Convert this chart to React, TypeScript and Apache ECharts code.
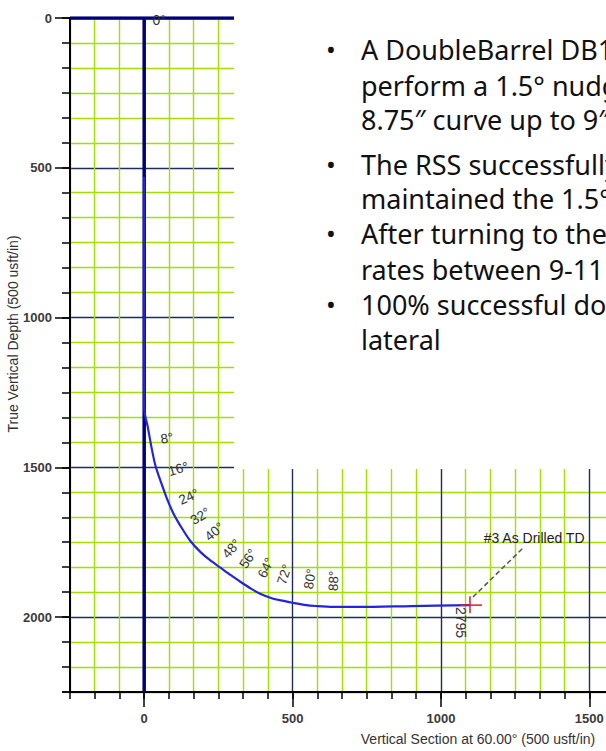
import React, { useEffect, useRef } from "react";
import * as echarts from "echarts";

// ---- axis ranges (usft) ----
const vsMin = -250;
const vsMax = 2500;
const tvdMin = 0;
const tvdMax = 2250;
const gridStep = 500 / 6;
const majorVS = [0, 500, 1000, 1500, 2000, 2500];
const majorTVD = [0, 500, 1000, 1500, 2000];
const labelVS = [0, 500, 1000, 1500];
const labelTVD = [0, 500, 1000, 1500, 2000];

// ---- well path (vertical section, true vertical depth) ----
const pathVS = [0, 0, 0, 4, 12, 24, 38, 55, 75, 99, 125, 155, 190, 222, 257, 292, 324, 360, 391, 430, 470, 500, 540, 580, 637, 728, 900, 1098];
const pathTVD = [530, 1200, 1300, 1330, 1365, 1430, 1495, 1545, 1600, 1655, 1700, 1745, 1783, 1810, 1835, 1860, 1882, 1905, 1922, 1937, 1946, 1952, 1959, 1963, 1966, 1966, 1963, 1960];

// ---- inclination annotations ----
const incAngles = [8, 16, 24, 32, 40, 48, 56, 64, 72, 80, 88];
const incVS = [55, 82, 119, 160, 210, 271, 331, 395, 462, 553, 637];
const incTVD = [1406, 1515, 1612, 1681, 1737, 1797, 1833, 1866, 1890, 1906, 1913];

const startAngle = [0];
const startVS = [28];
const startTVD = [6];

// ---- TD marker ----
const tdVS = [1098];
const tdTVD = [1960];
const tdDepthText = ["2795"];
const tdDepthVS = [1068];
const tdDepthTVD = [1966];
const targetText = ["#3 As Drilled TD"];
const targetVS = [1144];
const targetTVD = [1737];
const leaderVS = [1108, 1276];
const leaderTVD = [1933, 1770];

// ---- notes ----
const noteLines = [
  "A DoubleBarrel DB1",
  "perform a 1.5° nudge",
  "8.75″ curve up to 9″",
  "The RSS successfully",
  "maintained the 1.5°",
  "After turning to the",
  "rates between 9-11",
  "100% successful do",
  "lateral",
];
const noteBullets = [true, false, false, true, false, true, false, true, false];

const axisFont = '"Liberation Sans", Arial, Helvetica, sans-serif';
const noteFont = '"Noto Sans", "Open Sans", sans-serif';
const navy = "#000078";
const majorColor = "#1f2d5c";
const minorColor = "#a2e000";

const isIn = (v: number, list: number[]) => list.some((m) => Math.abs(v - m) < 1e-6);

export default function App() {
  const ref = useRef<HTMLDivElement>(null);

  useEffect(() => {
    if (!ref.current) return;
    const chart = echarts.init(ref.current, undefined, { renderer: "svg" });

    const xColors = Array.from({ length: 6 }, (_, i) => (i === 3 ? majorColor : minorColor));
    const yColors = Array.from({ length: 6 }, (_, i) => (i === 0 ? majorColor : minorColor));

    const labelStyle = {
      color: "#3a3a3a",
      fontSize: 13,
      fontWeight: "bold" as const,
      fontFamily: axisFont,
    };

    const noteY = [49, 85, 119, 164, 198, 233, 269, 304, 339];
    const noteElements: any[] = [
      { type: "rect", shape: { x: 234, y: 0, width: 700, height: 469 }, style: { fill: "#ffffff" }, z: 100 },
    ];
    noteLines.forEach((t, i) => {
      noteElements.push({
        type: "text",
        x: 361,
        y: noteY[i],
        z: 101,
        style: { text: t, fill: "#111", fontSize: 27, fontFamily: noteFont, align: "left", verticalAlign: "middle" },
      });
      if (noteBullets[i]) {
        noteElements.push({
          type: "text",
          x: 331,
          y: noteY[i],
          z: 101,
          style: { text: "•", fill: "#111", fontSize: 26, fontFamily: noteFont, align: "center", verticalAlign: "middle" },
        });
      }
    });
    noteElements.push({
      type: "text",
      x: 13,
      y: 334,
      rotation: Math.PI / 2,
      style: {
        text: "True Vertical Depth (500 usft/in)",
        fill: "#333",
        fontSize: 14,
        fontFamily: axisFont,
        align: "center",
        verticalAlign: "middle",
      },
    });

    const textItem = (p: number[], text: string, rotDeg: number, size: number) => ({
      type: "text",
      x: p[0],
      y: p[1],
      rotation: (rotDeg * Math.PI) / 180,
      style: { text, fill: "#333", fontSize: size, fontFamily: axisFont, align: "left", verticalAlign: "middle" },
    });

    chart.setOption({
      animation: false,
      backgroundColor: "#ffffff",
      grid: { left: 70, top: 18, width: 816, height: 679 },
      xAxis: [
        {
          type: "value",
          min: vsMin,
          max: vsMax,
          interval: gridStep,
          position: "bottom",
          axisLine: { show: true, onZero: false, lineStyle: { color: "#000", width: 2 } },
          axisTick: { show: true, length: 7, lineStyle: { color: "#000", width: 1.5 } },
          axisLabel: {
            ...labelStyle,
            margin: 20,
            formatter: (v: number) => (isIn(v, labelVS) ? String(Math.round(v)) : ""),
          },
          splitLine: { show: true, lineStyle: { color: xColors, width: 1.4 } },
          name: "Vertical Section at 60.00° (500 usft/in)",
          nameLocation: "middle",
          nameGap: 40,
          nameTextStyle: { color: "#333", fontSize: 14, fontFamily: axisFont },
        },
        {
          type: "value",
          min: vsMin,
          max: vsMax,
          position: "bottom",
          axisLine: { show: false, onZero: false },
          axisTick: { show: true, customValues: majorVS, length: 15, lineStyle: { color: "#000", width: 1.5 } },
          axisLabel: { show: false },
          splitLine: { show: false },
        },
      ],
      yAxis: [
        {
          type: "value",
          inverse: true,
          min: tvdMin,
          max: tvdMax,
          interval: gridStep,
          position: "left",
          axisLine: { show: true, onZero: false, lineStyle: { color: "#000", width: 2 } },
          axisTick: { show: true, length: 8, lineStyle: { color: "#000", width: 1.5 } },
          axisLabel: {
            ...labelStyle,
            margin: 18,
            formatter: (v: number) => (isIn(v, labelTVD) ? String(Math.round(v)) : ""),
          },
          splitLine: { show: true, lineStyle: { color: yColors, width: 1.4 } },
        },
        {
          type: "value",
          inverse: true,
          min: tvdMin,
          max: tvdMax,
          position: "left",
          axisLine: { show: false, onZero: false },
          axisTick: { show: true, customValues: majorTVD, length: 15, lineStyle: { color: "#000", width: 1.5 } },
          axisLabel: { show: false },
          splitLine: { show: false },
        },
      ],
      graphic: { elements: noteElements },
      series: [
        {
          type: "line",
          name: "zero VS",
          data: [
            [0, tvdMin],
            [0, tvdMax],
          ],
          showSymbol: false,
          lineStyle: { color: navy, width: 3.5 },
          silent: true,
          z: 2,
        },
        {
          type: "line",
          name: "zero TVD",
          data: [
            [vsMin, 0],
            [vsMax, 0],
          ],
          showSymbol: false,
          lineStyle: { color: navy, width: 3.5 },
          silent: true,
          z: 2,
        },
        {
          type: "line",
          name: "Wellpath",
          data: pathVS.map((x, i) => [x, pathTVD[i]]),
          showSymbol: false,
          smooth: 0.3,
          lineStyle: { color: "#2424dc", width: 2.2 },
          silent: true,
          z: 3,
        },
        {
          type: "custom",
          name: "inclination",
          clip: false,
          silent: true,
          z: 5,
          data: incAngles.map((a, i) => [incVS[i], incTVD[i], a]),
          renderItem: (_p: any, api: any) =>
            textItem(api.coord([api.value(0), api.value(1)]), api.value(2) + "°", api.value(2), 13.5),
        },
        {
          type: "custom",
          name: "start",
          clip: false,
          silent: true,
          z: 5,
          data: startAngle.map((a, i) => [startVS[i], startTVD[i], a]),
          renderItem: (_p: any, api: any) =>
            textItem(api.coord([api.value(0), api.value(1)]), api.value(2) + "°", 0, 14),
        },
        {
          type: "custom",
          name: "td depth",
          clip: false,
          silent: true,
          z: 5,
          data: tdDepthText.map((_t, i) => [tdDepthVS[i], tdDepthTVD[i]]),
          renderItem: (p: any, api: any) =>
            textItem(api.coord([api.value(0), api.value(1)]), tdDepthText[p.dataIndex], -90, 14),
        },
        {
          type: "custom",
          name: "target label",
          clip: false,
          silent: true,
          z: 5,
          data: targetText.map((_t, i) => [targetVS[i], targetTVD[i]]),
          renderItem: (p: any, api: any) => {
            const el: any = textItem(api.coord([api.value(0), api.value(1)]), targetText[p.dataIndex], 0, 14);
            el.style.fill = "#222";
            return el;
          },
        },
        {
          type: "custom",
          name: "leader",
          clip: false,
          silent: true,
          z: 4,
          data: [[leaderVS[0], leaderTVD[0], leaderVS[1], leaderTVD[1]]],
          renderItem: (_p: any, api: any) => {
            const a = api.coord([api.value(0), api.value(1)]);
            const b = api.coord([api.value(2), api.value(3)]);
            return {
              type: "line",
              shape: { x1: a[0], y1: a[1], x2: b[0], y2: b[1] },
              style: { stroke: "#555", lineWidth: 1.5, lineDash: [5, 3] },
            };
          },
        },
        {
          type: "custom",
          name: "TD",
          clip: false,
          silent: true,
          z: 6,
          data: tdVS.map((x, i) => [x, tdTVD[i]]),
          renderItem: (_p: any, api: any) => {
            const c = api.coord([api.value(0), api.value(1)]);
            return {
              type: "group",
              children: [
                { type: "line", shape: { x1: c[0] - 10, y1: c[1], x2: c[0] + 12, y2: c[1] }, style: { stroke: "#e02020", lineWidth: 1.5 } },
                { type: "line", shape: { x1: c[0], y1: c[1] - 9, x2: c[0], y2: c[1] + 8 }, style: { stroke: "#e02020", lineWidth: 1.5 } },
              ],
            };
          },
        },
      ],
    });

    return () => chart.dispose();
  }, []);

  return (
    <div
      style={{
        position: "absolute",
        left: 0,
        top: 0,
        width: 606,
        height: 751,
        overflow: "hidden",
        background: "#fff",
      }}
    >
      <div ref={ref} style={{ width: 900, height: 751 }} />
    </div>
  );
}
